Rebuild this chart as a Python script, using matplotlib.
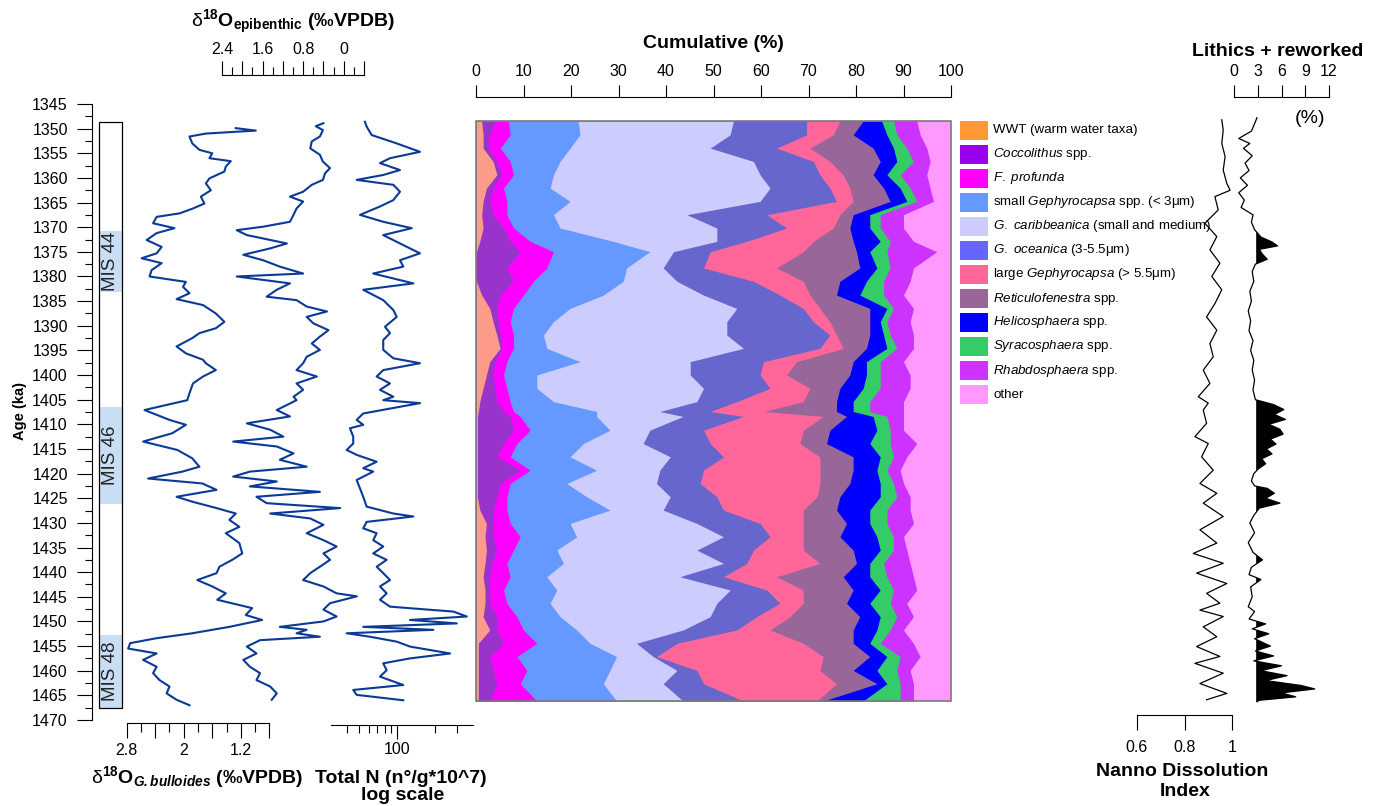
import numpy as np
import matplotlib
matplotlib.use('Agg')
import matplotlib.pyplot as plt
from matplotlib.patches import Rectangle
from matplotlib.ticker import FixedLocator, FixedFormatter

plt.rcParams['font.family'] = 'Liberation Sans'
plt.rcParams['mathtext.fontset'] = 'custom'
plt.rcParams['mathtext.rm'] = 'Liberation Sans'
plt.rcParams['mathtext.it'] = 'Liberation Sans:italic'
plt.rcParams['mathtext.bf'] = 'Liberation Sans:bold'
try:
    plt.rcParams['mathtext.bfit'] = 'Liberation Sans:italic:bold'
    sub_bull = r'\mathbfit{G.bulloides}'
except KeyError:
    sub_bull = r'\mathbf{G.bulloides}'

# ---------------- data ----------------
# d18O G. bulloides (age ka, permil)
bull = np.array([
    (1349.9, 1.27), (1350.4, 0.99), (1351.0, 1.69), (1351.6, 1.92), (1353.0, 1.88), (1354.3, 1.78),
    (1355.0, 1.60), (1356.0, 1.64), (1356.6, 1.34), (1357.7, 1.41), (1358.7, 1.43), (1360.1, 1.64),
    (1361.1, 1.69), (1362.5, 1.62), (1363.8, 1.76), (1365.2, 1.71), (1366.2, 1.87), (1367.2, 2.06),
    (1367.9, 2.38), (1369.2, 2.43), (1370.2, 2.13), (1371.2, 2.38), (1372.6, 2.52), (1374.0, 2.31),
    (1375.3, 2.38), (1376.3, 2.59), (1377.3, 2.31), (1378.7, 2.45), (1380.0, 2.48), (1381.1, 1.97),
    (1382.1, 2.01), (1383.4, 1.92), (1384.6, 2.10), (1385.8, 1.73), (1387.5, 1.55), (1389.2, 1.43),
    (1390.5, 1.55), (1391.5, 1.78), (1392.5, 1.88), (1394.2, 2.10), (1395.6, 1.97), (1396.9, 1.73),
    (1397.6, 1.69), (1399.0, 1.55), (1400.3, 1.73), (1401.7, 1.87), (1403.7, 1.92), (1405.1, 1.95),
    (1407.1, 2.55), (1409.1, 2.20), (1410.1, 1.97), (1411.8, 2.16), (1413.5, 2.57), (1415.2, 2.09),
    (1416.9, 1.88), (1418.6, 1.78), (1419.6, 2.02), (1421.0, 2.50), (1422.0, 1.74), (1423.3, 1.54),
    (1424.7, 2.10), (1425.7, 1.88), (1427.0, 1.54), (1428.1, 1.27), (1429.4, 1.36), (1430.8, 1.22),
    (1432.1, 1.41), (1434.1, 1.22), (1436.2, 1.18), (1437.5, 1.32), (1438.9, 1.50), (1440.2, 1.54),
    (1441.6, 1.81), (1442.9, 1.60), (1444.3, 1.41), (1445.6, 1.53), (1447.3, 1.04), (1448.7, 1.13),
    (1449.7, 0.90), (1451.1, 1.36), (1452.4, 1.88), (1453.4, 2.38), (1454.4, 2.75), (1455.5, 2.78),
    (1456.5, 2.38), (1457.8, 2.57), (1459.2, 2.38), (1460.5, 2.43), (1461.9, 2.34), (1463.2, 2.20),
    (1464.6, 2.24), (1465.9, 2.10), (1467.0, 1.92)])

# d18O epibenthic
epi = np.array([
    (1348.9, 0.40), (1349.5, 0.55), (1350.3, 0.41), (1351.6, 0.47), (1352.6, 0.63), (1354.0, 0.66),
    (1355.3, 0.47), (1356.7, 0.41), (1358.0, 0.27), (1359.1, 0.37), (1360.4, 0.41), (1361.4, 0.63),
    (1362.8, 0.80), (1363.8, 1.06), (1364.8, 0.80), (1366.2, 0.93), (1367.5, 0.99), (1368.9, 1.06),
    (1369.9, 1.59), (1370.6, 2.11), (1371.6, 1.91), (1373.3, 1.12), (1374.3, 1.45), (1375.6, 1.98),
    (1376.7, 1.59), (1378.0, 1.26), (1379.4, 0.80), (1380.0, 2.11), (1381.4, 1.06), (1382.7, 1.32),
    (1384.1, 1.52), (1384.8, 0.93), (1386.1, 0.73), (1387.1, 0.33), (1388.2, 0.73), (1389.5, 0.60),
    (1390.9, 0.30), (1392.2, 0.47), (1393.6, 0.63), (1394.9, 0.47), (1396.3, 0.73), (1397.6, 0.80),
    (1399.0, 0.93), (1400.3, 0.53), (1401.7, 0.93), (1403.0, 0.80), (1404.4, 0.99), (1405.1, 0.93),
    (1407.1, 1.32), (1408.4, 1.06), (1409.8, 1.91), (1411.1, 1.45), (1412.5, 1.19), (1413.5, 2.18),
    (1414.5, 1.32), (1415.9, 0.99), (1417.2, 1.26), (1418.6, 0.73), (1419.6, 1.85), (1420.6, 2.18),
    (1421.6, 1.32), (1422.6, 1.85), (1423.7, 0.47), (1424.7, 1.72), (1426.0, 1.52), (1427.0, 0.07),
    (1428.1, 1.45), (1429.1, 0.66), (1430.4, 0.40), (1432.1, 0.73), (1433.5, 0.40), (1434.8, 0.14),
    (1436.2, 0.40), (1437.5, 0.27), (1438.9, 0.47), (1440.2, 0.66), (1441.6, 0.80), (1442.9, 0.40),
    (1444.3, 0.14), (1444.9, -0.26), (1446.3, 0.27), (1447.6, 0.40), (1449.0, 0.14), (1450.0, 0.40),
    (1451.1, 1.26), (1451.7, 0.73), (1452.4, 0.93), (1453.1, 0.47), (1453.8, 1.65), (1455.1, 1.91),
    (1456.5, 1.72), (1457.8, 1.98), (1459.2, 1.85), (1460.5, 1.65), (1461.9, 1.72), (1463.2, 1.45),
    (1464.6, 1.32), (1465.9, 1.42)])

# Total N (n/g*10^7)
totn = np.array([
    (1348.6, 55.7), (1349.6, 57.5), (1351.3, 63.0), (1353.0, 99.5), (1354.7, 152), (1356.0, 88),
    (1357.0, 73.3), (1358.4, 105.6), (1359.4, 77.8), (1360.4, 47.9), (1361.4, 93.5), (1362.8, 105.6),
    (1364.5, 93.5), (1365.8, 73.3), (1367.5, 50.9), (1368.9, 77.8), (1370.2, 130.8), (1371.6, 77.8),
    (1373.3, 105.6), (1375.3, 152), (1376.7, 105.6), (1378.0, 112.2), (1379.4, 64.8), (1381.4, 134.7),
    (1382.7, 54.0), (1384.8, 77.8), (1386.8, 93.5), (1388.2, 99.5), (1390.2, 80.3), (1391.5, 88),
    (1392.9, 77.8), (1394.9, 77.8), (1396.6, 93.5), (1397.6, 152), (1399.0, 77.8), (1400.3, 69.0),
    (1401.7, 88), (1403.0, 73.3), (1404.4, 93.5), (1405.1, 77.8), (1405.7, 152), (1407.8, 54.0),
    (1409.1, 47.9), (1410.1, 54.0), (1410.8, 42.4), (1412.5, 45.0), (1413.9, 45.0), (1415.2, 39.9),
    (1416.2, 47.9), (1417.6, 69.0), (1418.9, 54.0), (1419.6, 64.8), (1421.3, 47.9), (1423.0, 50.9),
    (1424.7, 54.0), (1426.7, 57.5), (1428.1, 93.5), (1428.7, 134.7), (1429.8, 57.5), (1431.1, 54.0),
    (1432.1, 69.0), (1433.5, 64.8), (1434.8, 77.8), (1436.2, 64.8), (1437.5, 82.8), (1438.9, 69.0),
    (1440.2, 77.8), (1441.6, 88), (1442.9, 73.3), (1444.3, 82.8), (1445.6, 73.3), (1447.0, 88),
    (1448.0, 279.8), (1449.0, 357), (1449.7, 126.8), (1450.4, 297.7), (1451.1, 54.0), (1451.7, 194.2),
    (1452.4, 39.9), (1453.1, 61.0), (1454.1, 99.5), (1455.1, 126.8), (1456.5, 263.4), (1457.5, 126.8),
    (1458.5, 77.8), (1459.9, 82.8), (1461.2, 73.3), (1462.9, 112.2), (1463.9, 45.0), (1464.9, 47.9),
    (1466.0, 112.2)])

# cumulative nannofossil assemblage (right edge of each taxon, %)
stack_age = [1348.5, 1351.3, 1354.0, 1356.7, 1359.4, 1362.1, 1364.8, 1367.5, 1370.2, 1372.9,
             1375.0, 1378.3, 1381.0, 1383.8, 1386.5, 1389.2, 1391.9, 1394.6, 1397.3, 1400.0,
             1402.7, 1405.4, 1407.4, 1408.4, 1411.2, 1413.9, 1416.6, 1419.3, 1422.0, 1424.7,
             1427.4, 1430.1, 1432.8, 1435.5, 1438.2, 1440.9, 1443.6, 1446.3, 1449.0, 1451.7,
             1454.4, 1457.1, 1459.9, 1462.6, 1466.1]
cum_wwt = [1.2, 1.5, 1.5, 3.6, 4.4, 2.2, 1.5, 1.2, 1.5, 0.8, 0.1, 0.1, 0.1, 1.2, 2.9, 3.6, 4.4, 5.1, 2.9, 2.2,
           1.5, 0.8, 0.5, 0.3, 0.3, 0.3, 0.3, 0.3, 0.3, 0.3, 0.8, 2.2, 1.9, 2.2, 1.9, 1.5, 1.9, 1.9, 1.5, 2.9,
           0.5, 0.5, 0.5, 0.5, 0.5]
cum_cocco = [4.0, 2.9, 2.6, 4.4, 5.4, 3.6, 2.9, 3.6, 5.8, 7.2, 9.3, 6.5, 7.9, 5.1, 4.4, 4.7, 5.1, 5.4, 4.0, 3.6,
             4.0, 4.4, 5.8, 7.2, 7.9, 5.8, 4.4, 9.3, 5.1, 4.4, 3.6, 3.6, 3.6, 4.4, 3.3, 2.9, 2.9, 2.9, 4.4, 4.4,
             5.8, 2.9, 3.6, 4.4, 2.9]
cum_fprof = [6.8, 7.2, 5.1, 7.2, 7.9, 5.8, 6.5, 6.5, 7.9, 11.4, 16.3, 14.9, 12.1, 10.0, 7.9, 7.2, 7.9, 7.9, 6.5, 5.8,
             6.5, 7.2, 7.9, 9.3, 11.4, 8.6, 7.2, 11.4, 7.2, 6.5, 6.5, 7.2, 9.3, 7.9, 6.5, 7.2, 5.8, 6.5, 8.6, 10.0,
             12.8, 8.6, 10.7, 9.3, 12.8]
cum_smallg = [21.5, 21.9, 19.8, 17.7, 16.3, 15.6, 19.8, 16.3, 17.7, 28.9, 36.6, 31.7, 31.0, 26.8, 19.8, 16.3, 14.2,
              14.9, 21.9, 12.8, 12.8, 16.3, 25.4, 25.4, 28.2, 22.6, 19.8, 25.4, 19.1, 23.3, 28.2, 19.8, 21.2, 17.0,
              18.4, 14.9, 17.0, 15.6, 17.7, 21.2, 24.0, 29.6, 28.2, 26.8, 29.6]
cum_carib = [54.2, 53.5, 49.3, 58.4, 59.8, 61.9, 59.8, 44.4, 50.7, 50.7, 41.6, 39.4, 42.3, 47.9, 54.9, 52.8, 52.8,
             56.3, 45.1, 45.1, 47.9, 46.5, 38.7, 43.6, 36.6, 35.2, 40.9, 38.7, 38.0, 40.9, 39.4, 46.5, 52.1, 46.5,
             52.1, 42.9, 53.5, 50.7, 49.3, 43.6, 33.8, 37.3, 42.3, 39.4, 43.6]
cum_ocean = [69.6, 69.6, 63.3, 71.0, 72.4, 74.5, 75.9, 61.2, 65.4, 57.0, 49.3, 47.9, 58.4, 64.0, 68.9, 71.0, 74.5,
             72.4, 60.5, 59.8, 61.9, 54.9, 49.3, 56.3, 47.9, 49.3, 52.1, 47.9, 47.2, 50.7, 52.1, 59.8, 61.9, 58.4,
             57.0, 52.1, 61.2, 64.0, 59.1, 54.9, 42.3, 38.0, 46.5, 47.9, 56.3]
cum_large = [76.6, 75.2, 70.3, 74.5, 77.3, 78.7, 79.4, 76.6, 75.2, 71.0, 68.9, 63.3, 68.9, 70.3, 72.4, 74.5, 75.9,
             77.3, 67.5, 65.4, 70.3, 68.9, 60.5, 73.1, 68.9, 68.2, 72.4, 72.4, 72.4, 71.8, 68.9, 68.9, 68.9, 68.9,
             72.4, 63.3, 68.9, 68.9, 66.1, 61.9, 68.9, 73.1, 72.4, 75.9, 71.8]
cum_retic = [81.5, 79.4, 83.6, 85.1, 83.6, 85.8, 87.2, 79.4, 78.7, 79.4, 80.1, 80.8, 76.6, 75.9, 82.9, 82.9, 82.9,
             82.2, 79.4, 78.7, 76.6, 75.9, 75.9, 78.0, 74.5, 73.8, 79.4, 79.4, 78.7, 76.6, 75.9, 78.0, 76.6, 79.4,
             80.1, 77.3, 79.4, 78.0, 80.8, 79.4, 79.4, 82.9, 79.4, 84.4, 73.1]
cum_helico = [85.4, 86.5, 87.9, 88.6, 86.5, 89.3, 90.7, 82.9, 82.9, 85.1, 82.9, 84.4, 82.2, 80.8, 86.5, 85.1, 85.8,
              86.5, 82.2, 82.2, 81.5, 79.4, 79.4, 83.6, 84.4, 82.9, 85.1, 84.4, 85.1, 85.1, 82.9, 82.9, 84.4, 85.1,
              82.9, 82.9, 85.1, 82.9, 85.1, 84.4, 82.9, 86.5, 84.4, 86.5, 81.5]
cum_syra = [87.9, 88.6, 90.7, 92.1, 89.3, 91.4, 92.8, 85.1, 85.1, 87.2, 86.5, 87.2, 85.8, 85.8, 87.9, 86.5, 87.2,
            88.6, 85.1, 85.1, 85.1, 82.9, 82.9, 86.5, 87.2, 87.2, 87.9, 86.5, 87.9, 88.6, 86.5, 86.5, 87.9, 87.9,
            85.8, 86.5, 87.9, 87.2, 88.6, 87.2, 85.1, 89.3, 88.6, 89.3, 89.3]
cum_rhabdo = [92.8, 93.5, 94.9, 95.6, 94.9, 95.6, 96.3, 90.0, 90.0, 92.1, 97.0, 92.1, 91.4, 90.0, 92.1, 91.4, 92.1,
              92.1, 90.0, 91.4, 91.4, 90.0, 90.0, 90.0, 90.0, 92.8, 90.7, 89.3, 90.0, 91.4, 91.4, 92.1, 90.0, 90.7,
              91.4, 92.1, 92.8, 90.7, 92.1, 90.0, 92.1, 93.5, 91.4, 92.1, 92.1]
cum_other = [100.0] * len(stack_age)

taxa_labels = ['WWT (warm water taxa)', r'$\mathit{Coccolithus}$ spp.', r'$\mathit{F.\ profunda}$',
               r'small $\mathit{Gephyrocapsa}$ spp. (< 3μm)', r'$\mathit{G.\ caribbeanica}$ (small and medium)',
               r'$\mathit{G.\ oceanica}$ (3-5.5μm)', r'large $\mathit{Gephyrocapsa}$ (> 5.5μm)',
               r'$\mathit{Reticulofenestra}$ spp.', r'$\mathit{Helicosphaera}$ spp.',
               r'$\mathit{Syracosphaera}$ spp.', r'$\mathit{Rhabdosphaera}$ spp.', 'other']
fill_colors = ['#fb9b88', '#9933cc', '#ff00ff', '#6699ff', '#ccccff', '#6666cc',
               '#ff6699', '#996699', '#0000ff', '#33cc66', '#cc33ff', '#ff99ff']
legend_colors = ['#ff9933', '#9900ee', '#ff00ff', '#6699ff', '#ccccff', '#6666ff',
                 '#ff6699', '#996699', '#0000ff', '#33cc66', '#cc33ff', '#ff99ff']

# Nanno Dissolution Index
ndi = np.array([
    (1348.2, 0.957), (1350.3, 0.963), (1353.0, 0.957), (1355.7, 0.971), (1358.4, 0.963), (1361.1, 0.978),
    (1362.5, 0.992), (1363.8, 0.928), (1366.5, 0.942), (1369.2, 0.886), (1371.9, 0.936), (1374.6, 0.907),
    (1377.3, 0.949), (1380.0, 0.915), (1382.7, 0.957), (1385.5, 0.928), (1388.2, 0.893), (1390.9, 0.936),
    (1393.6, 0.907), (1396.3, 0.921), (1399.0, 0.879), (1401.7, 0.907), (1404.4, 0.858), (1405.7, 0.900),
    (1407.1, 0.879), (1409.8, 0.893), (1412.5, 0.844), (1413.9, 0.900), (1416.6, 0.872), (1419.3, 0.921),
    (1422.0, 0.865), (1424.0, 0.936), (1426.0, 0.879), (1428.7, 0.963), (1431.4, 0.865), (1434.1, 0.936),
    (1436.2, 0.837), (1438.2, 0.963), (1440.2, 0.851), (1442.3, 0.978), (1444.3, 0.893), (1446.3, 0.949),
    (1447.7, 0.865), (1449.0, 0.963), (1451.1, 0.879), (1453.1, 0.936), (1455.1, 0.851), (1457.1, 0.949),
    (1458.5, 0.844), (1460.5, 0.963), (1462.6, 0.865), (1464.6, 0.978), (1465.9, 0.893)])

# Lithics + reworked (%)
lith = np.array([
    (1347.8, 2.9), (1349.0, 2.6), (1350.5, 2.2), (1352.0, 0.6), (1353.0, 2.0), (1354.0, 1.2), (1355.5, 2.3),
    (1357.0, 1.4), (1358.5, 1.9), (1360.0, 0.8), (1361.5, 1.7), (1363.0, 0.6), (1364.5, 1.3), (1366.0, 0.9),
    (1367.5, 2.4), (1369.0, 2.2), (1370.5, 2.6), (1372.0, 3.4), (1373.0, 4.8), (1373.8, 5.5), (1374.5, 3.2),
    (1375.5, 3.6), (1376.5, 4.2), (1377.5, 2.7), (1379.0, 2.3), (1381.0, 2.5), (1383.0, 2.0), (1385.0, 2.2),
    (1387.0, 1.8), (1389.0, 2.1), (1391.0, 1.9), (1393.0, 2.4), (1395.0, 2.1), (1397.0, 2.5), (1399.0, 2.3),
    (1401.0, 2.6), (1403.0, 2.4), (1405.0, 2.7), (1406.0, 5.0), (1407.0, 6.3), (1408.0, 5.1), (1409.0, 6.5),
    (1410.0, 4.4), (1411.0, 5.8), (1412.0, 6.2), (1413.0, 4.6), (1414.0, 5.3), (1415.0, 4.1), (1416.0, 4.8),
    (1417.0, 3.5), (1418.0, 4.0), (1419.0, 3.1), (1420.0, 2.5), (1421.5, 2.2), (1422.5, 2.6), (1423.0, 4.2),
    (1424.0, 5.1), (1425.0, 4.0), (1426.0, 5.8), (1427.0, 3.2), (1428.5, 2.5), (1430.0, 2.0), (1432.0, 2.6),
    (1434.0, 1.8), (1436.0, 2.4), (1437.5, 3.6), (1439.0, 2.2), (1440.5, 1.9), (1441.5, 3.4), (1443.0, 2.1),
    (1445.0, 2.3), (1447.0, 1.8), (1448.0, 2.6), (1449.5, 1.9), (1450.5, 4.0), (1451.5, 2.3), (1452.5, 4.4),
    (1453.5, 2.6), (1455.0, 4.6), (1456.0, 2.7), (1457.0, 5.0), (1458.0, 2.5), (1459.0, 6.0), (1460.0, 3.4),
    (1461.0, 6.7), (1462.0, 4.0), (1463.0, 8.5), (1463.7, 10.2), (1464.5, 6.0), (1465.3, 7.8), (1466.0, 3.2),
    (1466.3, 2.9)])
lith_base = 2.8

# marine isotope stages (label, top age, bottom age)
mis_names = ['MIS 44', 'MIS 46', 'MIS 48']
mis_top = [1370.8, 1406.5, 1452.8]
mis_bot = [1383.2, 1426.2, 1467.6]

# ---------------- figure ----------------
W, H = 1381, 806
fig = plt.figure(figsize=(W / 100, H / 100), dpi=100)
BLUE = '#0b3a96'
TSIZE = 11.5


def axes_px(x0, x1, y0, y1):
    return fig.add_axes([x0 / W, 1 - y1 / H, (x1 - x0) / W, (y1 - y0) / H], facecolor='none')


def only_spine(ax, keep):
    for s in ['left', 'right', 'top', 'bottom']:
        ax.spines[s].set_visible(s == keep)
        ax.spines[s].set_linewidth(0.8)
    ax.tick_params(which='both', left=keep == 'left', labelleft=keep == 'left', right=False,
                   labelright=False, bottom=keep == 'bottom', labelbottom=keep == 'bottom',
                   top=keep == 'top', labeltop=keep == 'top', labelsize=TSIZE)


def ftext(x, y, s, **kw):
    fig.text(x / W, 1 - y / H, s, **kw)


# age axis with MIS column
ax_age = axes_px(92.5, 124, 104, 720)
ax_age.set_xlim(0, 1)
ax_age.set_ylim(1470, 1345)
only_spine(ax_age, 'left')
ax_age.yaxis.set_major_locator(FixedLocator(np.arange(1345, 1471, 5)))
ax_age.yaxis.set_minor_locator(FixedLocator(np.arange(1347.5, 1470, 5)))
ax_age.tick_params(axis='y', which='major', length=10.8, width=0.8, pad=7)
ax_age.tick_params(axis='y', which='minor', length=5, width=0.8)
for name, t, b in zip(mis_names, mis_top, mis_bot):
    ax_age.add_patch(Rectangle((0.206, t), 0.73, b - t, fc='#c9def5', ec='none'))
    ax_age.text(0.571, (t + b) / 2, name, rotation=90, ha='center', va='center', fontsize=13.5,
                color='#222222')
ax_age.add_patch(Rectangle((0.206, 1348.7), 0.73, 1467.6 - 1348.7, fill=False, ec='black', lw=0.9))

# d18O G. bulloides
ax_b = axes_px(126.7, 269.3, 104, 720)
ax_b.plot(bull[:, 1], bull[:, 0], color=BLUE, lw=1.5)
ax_b.set_xlim(2.8, 0.8)
ax_b.set_ylim(1470, 1345)
only_spine(ax_b, 'bottom')
ax_b.spines['bottom'].set_position(('outward', 2.2))
ax_b.xaxis.set_major_locator(FixedLocator([2.8, 2.4, 2.0, 1.6, 1.2, 0.8]))
ax_b.xaxis.set_major_formatter(FixedFormatter(['2.8', '', '2', '', '1.2', '']))
ax_b.xaxis.set_minor_locator(FixedLocator([2.6, 2.2, 1.8, 1.4, 1.0]))
ax_b.tick_params(axis='x', which='major', length=10.8, width=0.8, pad=3.4)
ax_b.tick_params(axis='x', which='minor', length=6.5, width=0.8)

# d18O epibenthic
ax_e = axes_px(222, 364, 104, 720)
ax_e.plot(epi[:, 1], epi[:, 0], color=BLUE, lw=1.5)
ax_e.set_xlim(2.4, -0.4)
ax_e.set_ylim(1470, 1345)
only_spine(ax_e, 'top')
ax_e.spines['top'].set_position(('outward', 20.9))
ax_e.xaxis.set_major_locator(FixedLocator([2.4, 2.0, 1.6, 1.2, 0.8, 0.4, 0.0, -0.4]))
ax_e.xaxis.set_major_formatter(FixedFormatter(['2.4', '', '1.6', '', '0.8', '', '0', '']))
ax_e.xaxis.set_minor_locator(FixedLocator([2.2, 1.8, 1.4, 1.0, 0.6, 0.2, -0.2]))
ax_e.tick_params(axis='x', which='major', length=10, width=0.8, pad=3)
ax_e.tick_params(axis='x', which='minor', length=5.8, width=0.8)

# Total N (log)
ax_n = axes_px(331, 473, 104, 720)
ax_n.plot(totn[:, 1], totn[:, 0], color=BLUE, lw=1.5)
ax_n.set_xscale('log')
ax_n.set_xlim(30, 400)
ax_n.set_ylim(1470, 1345)
only_spine(ax_n, 'bottom')
ax_n.spines['bottom'].set_position(('outward', 3.6))
ax_n.xaxis.set_major_locator(FixedLocator([100]))
ax_n.xaxis.set_major_formatter(FixedFormatter(['100']))
ax_n.xaxis.set_minor_locator(FixedLocator([40, 50, 60, 70, 80, 90, 200, 300]))
ax_n.xaxis.set_minor_formatter(FixedFormatter([''] * 8))
ax_n.tick_params(axis='x', which='major', length=10, width=0.8, pad=2.5)
ax_n.tick_params(axis='x', which='minor', length=5.8, width=0.8)

# cumulative assemblage
ax_s = axes_px(476, 951, 121, 701)
cums = [cum_wwt, cum_cocco, cum_fprof, cum_smallg, cum_carib, cum_ocean, cum_large,
        cum_retic, cum_helico, cum_syra, cum_rhabdo, cum_other]
for top, col in reversed(list(zip(cums, fill_colors))):
    ax_s.fill_betweenx(stack_age, 0, top, color=col, lw=0)
ax_s.set_xlim(0, 100)
ax_s.set_ylim(1466.1, 1348.5)
only_spine(ax_s, 'top')
ax_s.spines['top'].set_position(('outward', 17.3))
ax_s.xaxis.set_major_locator(FixedLocator(np.arange(0, 101, 10)))
ax_s.tick_params(axis='x', which='major', length=8.6, width=0.8, pad=4)
ax_s.add_patch(Rectangle((0, 0), 1, 1, transform=ax_s.transAxes, fill=False, ec='#7a7a7a',
                         lw=1.2, clip_on=False, zorder=5))

# legend
for i, (lab, col) in enumerate(zip(taxa_labels, legend_colors)):
    yc = 130.5 + i * 24.0
    fig.patches.append(Rectangle((960 / W, 1 - (yc + 9.3) / H), 28 / W, 18.6 / H,
                                 transform=fig.transFigure, fc=col, ec='none'))
    ftext(993, yc, lab, fontsize=9.6, ha='left', va='center')

# Nanno Dissolution Index
ax_d = axes_px(1137, 1232, 104, 720)
ax_d.plot(ndi[:, 1], ndi[:, 0], color='black', lw=0.9)
ax_d.set_xlim(0.6, 1.0)
ax_d.set_ylim(1470, 1345)
only_spine(ax_d, 'bottom')
ax_d.spines['bottom'].set_position(('data', 1469.0))
ax_d.xaxis.set_major_locator(FixedLocator([0.6, 0.8, 1.0]))
ax_d.xaxis.set_major_formatter(FixedFormatter(['0.6', '0.8', '1']))
ax_d.tick_params(axis='x', which='major', length=10.8, width=0.8, pad=7)

# Lithics + reworked
ax_l = axes_px(1234, 1329, 104, 720)
ax_l.fill_betweenx(lith[:, 0], lith_base, lith[:, 1], where=lith[:, 1] > lith_base,
                   interpolate=True, color='black', lw=0)
ax_l.plot(lith[:, 1], lith[:, 0], color='black', lw=0.9)
ax_l.set_xlim(0, 12)
ax_l.set_ylim(1470, 1345)
only_spine(ax_l, 'top')
ax_l.spines['top'].set_position(('outward', 5))
ax_l.xaxis.set_major_locator(FixedLocator([0, 3, 6, 9, 12]))
ax_l.tick_params(axis='x', which='major', length=9, width=0.8, pad=4.3)

# titles
ftext(293, 27, r'$\mathrm{\delta}^{\mathbf{18}}\mathbf{O}_{\mathbf{epibenthic}}$ (‰VPDB)',
      fontsize=14, fontweight='bold', ha='center', va='baseline')
ftext(197, 783, r'$\mathrm{\delta}^{\mathbf{18}}\mathbf{O}_{' + sub_bull + r'}$ (‰VPDB)',
      fontsize=14, fontweight='bold', ha='center', va='baseline')
ftext(401, 783, 'Total N (n°/g*10^7)', fontsize=14, fontweight='bold', ha='center', va='baseline')
ftext(403, 800, 'log scale', fontsize=14, fontweight='bold', ha='center', va='baseline')
ftext(713, 48, 'Cumulative (%)', fontsize=14, fontweight='bold', ha='center', va='baseline')
ftext(1278, 56, 'Lithics + reworked', fontsize=14, fontweight='bold', ha='center', va='baseline')
ftext(1310, 123, '(%)', fontsize=14, ha='center', va='baseline')
ftext(1182, 776, 'Nanno Dissolution', fontsize=14, fontweight='bold', ha='center', va='baseline')
ftext(1185, 796, 'Index', fontsize=14, fontweight='bold', ha='center', va='baseline')
ftext(20, 411, 'Age (ka)', fontsize=10.5, fontweight='bold', rotation=90, ha='center', va='center')

fig.savefig('out.png', dpi=100, facecolor='white')
